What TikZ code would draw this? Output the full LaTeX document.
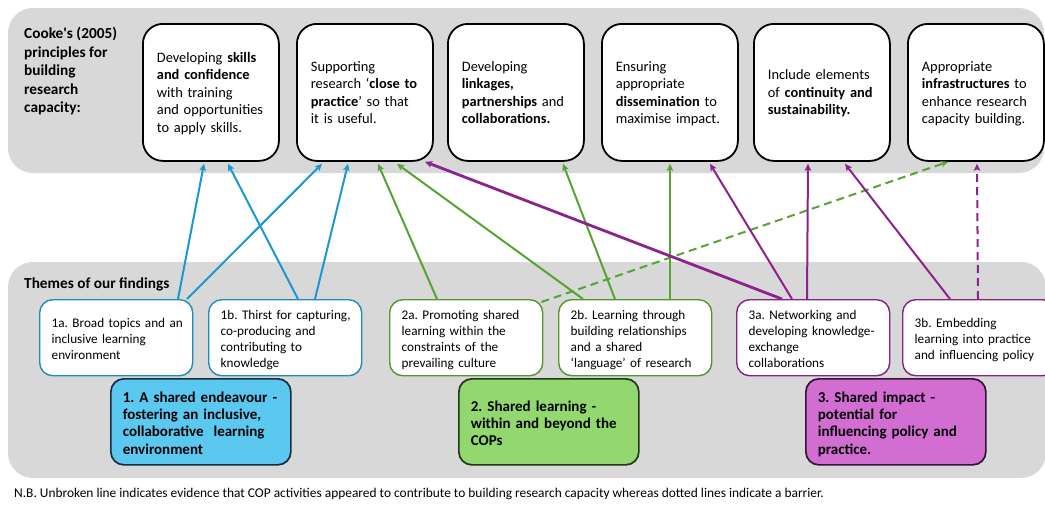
\documentclass[tikz,border=0pt]{standalone}
\usepackage{fontspec}
\setmainfont{Carlito}
\usetikzlibrary{arrows.meta}
\frenchspacing

% one left-aligned block of fixed lines, never re-wrapped,
% set a little lower than its box centre
\newcommand\rows[2][3pt]{\raisebox{-#1}[\height][\depth]{\begin{tabular}{@{}l@{}}#2\end{tabular}}}

\definecolor{band}{RGB}{216,216,216}
\definecolor{lnblue}{RGB}{27,152,207}
\definecolor{lngreen}{RGB}{86,164,50}
\definecolor{lnpurple}{RGB}{140,35,140}
\definecolor{edgeblue}{RGB}{30,140,190}
\definecolor{edgegreen}{RGB}{80,150,45}
\definecolor{edgepurple}{RGB}{130,35,130}
\definecolor{fillblue}{RGB}{91,200,240}
\definecolor{fillgreen}{RGB}{146,216,110}
\definecolor{fillpurple}{RGB}{210,110,210}
\definecolor{darkblue}{RGB}{25,45,65}
\definecolor{darkgreen}{RGB}{35,55,25}
\definecolor{darkpurple}{RGB}{55,20,55}

\begin{document}
\begin{tikzpicture}[x=1pt,y=-1pt,
  principle/.style={draw=black, line width=1.8pt, rounded corners=20pt, fill=white,
    anchor=north west, minimum width=136pt, minimum height=137pt,
    text width=108pt, inner xsep=14pt, align=left,
    font=\fontsize{14.4}{17.4}\selectfont},
  finding/.style={line width=1.4pt, rounded corners=13pt, fill=white,
    anchor=north west, minimum width=153pt, minimum height=76pt,
    text width=129pt, inner xsep=12pt, align=left,
    font=\fontsize{13.2}{16}\selectfont},
  theme/.style={line width=1.7pt, rounded corners=13pt,
    anchor=north west, minimum width=180pt, minimum height=86pt,
    text width=156pt, inner xsep=12pt, align=left,
    font=\fontsize{15}{17.2}\selectfont\bfseries},
  heading/.style={anchor=north west, inner sep=0pt, align=left,
    font=\fontsize{15.3}{18.6}\selectfont\bfseries},
  conn/.style={line width=2pt, -{Stealth[length=7pt,width=6.5pt,inset=1.5pt]}},
  barrier/.style={conn, dash pattern=on 8pt off 5pt},
]
\useasboundingbox (0,0) rectangle (1045,504);

% background bands
\fill[band, rounded corners=25pt] (8,8) rectangle (1044,173);
\fill[band, rounded corners=25pt] (8,262) rectangle (1046,478);

% Cooke's principles
\node[heading] (hdr) at (24,27) {Cooke\textquotesingle s (2005)\\principles for\\building\\research\\capacity:};
\node[principle] (c1) at (142,23) {\rows[1.5pt]{Developing \textbf{skills}\\\textbf{and confidence}\\with training\\and opportunities\\to apply skills.}};
\node[principle] (c2) at (296,23) {\rows[1.5pt]{Supporting\\research ‘\textbf{close to}\\\textbf{practice}’ so that\\it is useful.}};
\node[principle] (c3) at (447,23) {\rows[1.5pt]{Developing\\\textbf{linkages,}\\\textbf{partnerships} and\\\textbf{collaborations.}}};
\node[principle] (c4) at (601,23) {\rows[1.5pt]{Ensuring\\appropriate\\\textbf{dissemination} to\\maximise impact.}};
\node[principle] (c5) at (753,23) {\rows[1.5pt]{Include elements\\of \textbf{continuity and}\\\textbf{sustainability.}}};
\node[principle] (c6) at (907,23) {\rows[1.5pt]{Appropriate\\\textbf{infrastructures} to\\enhance research\\capacity building.}};

% themes of the findings
\node[heading] (themes) at (24,278) {Themes of our findings};
\node[finding, draw=edgeblue] (f1a) at (39,299) {\rows{1a. Broad topics and an\\inclusive learning\\environment}};
\node[finding, draw=edgeblue] (f1b) at (208,299) {\rows{1b. Thirst for capturing,\\co-producing and\\contributing to\\knowledge}};
\node[finding, draw=edgegreen] (f2a) at (389,299) {\rows{2a. Promoting shared\\learning within the\\constraints of the\\prevailing culture}};
\node[finding, draw=edgegreen] (f2b) at (558,299) {\rows{2b. Learning through\\building relationships\\and a shared\\‘language’ of research}};
\node[finding, draw=edgepurple] (f3a) at (736,299) {\rows{3a. Networking and\\developing knowledge-\\exchange\\collaborations}};
\node[finding, draw=edgepurple] (f3b) at (902,299) {\rows{3b. Embedding\\learning into practice\\and influencing policy}};

\node[theme, draw=darkblue, fill=fillblue] (t1) at (110,378) {\rows{1. A shared endeavour -\\fostering an inclusive,\\collaborative\ \ learning\\environment}};
\node[theme, draw=darkgreen, fill=fillgreen] (t2) at (458,378) {\rows{2. Shared learning -\\within and beyond the\\COPs}};
\node[theme, draw=darkpurple, fill=fillpurple] (t3) at (805,378) {\rows{3. Shared impact -\\potential for\\influencing policy and\\practice.}};

\node[anchor=west, inner sep=0pt, font=\fontsize{13.4}{16}\selectfont] (nb) at (14,494)
  {N.B. Unbroken line indicates evidence that COP activities appeared to contribute to building research capacity whereas dotted lines indicate a barrier.};

% theme 1 links
\draw[conn, lnblue] ([xshift=139pt]f1a.north west) -- ([xshift=62pt,yshift=-2pt]c1.south west);
\draw[conn, lnblue] ([xshift=148pt]f1a.north west) -- ([xshift=26pt,yshift=-2pt]c2.south west);
\draw[conn, lnblue] ([xshift=90pt]f1b.north west) -- ([xshift=86pt,yshift=-2pt]c1.south west);
\draw[conn, lnblue] ([xshift=107pt]f1b.north west) -- ([xshift=52pt,yshift=-2pt]c2.south west);

% theme 2 links
\draw[conn, lngreen] ([xshift=48pt]f2a.north west) -- ([xshift=82pt,yshift=-2pt]c2.south west);
\draw[conn, lngreen] ([xshift=25pt]f2b.north west) -- ([xshift=101pt,yshift=-2pt]c2.south west);
\draw[conn, lngreen] ([xshift=57pt]f2b.north west) -- ([xshift=116pt,yshift=-2pt]c3.south west);
\draw[conn, lngreen] ([xshift=112pt]f2b.north west) -- ([xshift=69pt,yshift=-2pt]c4.south west);
\draw[barrier, lngreen] ([xshift=-2pt,yshift=-3pt]f2a.north east) -- ([xshift=41pt,yshift=0pt]c6.south west);

% theme 3 links
\draw[conn, lnpurple, line width=2.8pt] ([xshift=46pt]f3a.north west) -- ([xshift=129pt,yshift=0pt]c2.south west);
\draw[conn, lnpurple] ([xshift=56pt]f3a.north west) -- ([xshift=109pt,yshift=-2pt]c4.south west);
\draw[conn, lnpurple] ([xshift=71pt]f3a.north west) -- ([xshift=55pt,yshift=-2pt]c5.south west);
\draw[conn, lnpurple] ([xshift=48pt]f3b.north west) -- ([xshift=92pt,yshift=-2pt]c5.south west);
\draw[barrier, lnpurple] ([xshift=76pt]f3b.north west) -- ([xshift=70pt,yshift=-2pt]c6.south west);
\end{tikzpicture}
\end{document}
